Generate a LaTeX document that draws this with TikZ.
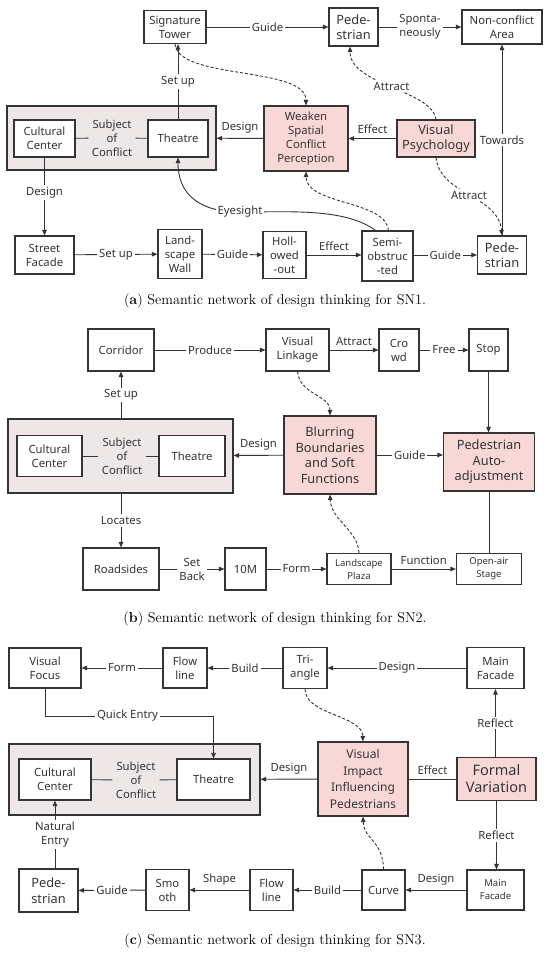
\documentclass[tikz,border=0pt]{standalone}
\usepackage{fontspec}
\newfontfamily\netfont{Noto Sans}
\usetikzlibrary{arrows.meta}
\definecolor{hotpink}{RGB}{248,216,214}
\definecolor{subjgrey}{RGB}{237,231,231}
\definecolor{ink}{RGB}{52,52,52}
\newcommand{\netcaption}[4]{%
  \node[capt] (#1) at (275,#2) {(\textbf{#3}) Semantic network of design thinking for SN#4.};
}

\begin{document}
\begin{tikzpicture}[x=1pt,y=-1pt,>={Triangle[length=5.5pt,width=4.5pt]},
    every node/.style={font=\netfont\fontsize{11.3}{14}\selectfont,text=ink},
    box/.style={draw=ink,line width=1.1pt,fill=white,align=center,inner sep=1pt},
    hot/.style={box,fill=hotpink},
    grp/.style={draw=ink,line width=1.1pt,fill=subjgrey},
    lab/.style={fill=white,inner sep=2pt,align=center},
    big/.style={font=\netfont\fontsize{12.8}{15.5}\selectfont},
    midtext/.style={font=\netfont\fontsize{12}{16.5}\selectfont},
    smalltext/.style={font=\netfont\fontsize{9.5}{13}\selectfont},
    link/.style={draw=ink,line width=0.9pt},
    hint/.style={link,dash pattern=on 3pt off 2pt},
    capt/.style={font=\rmfamily\fontsize{14.3}{16}\selectfont,text=black}]
  \useasboundingbox[fill=white] (0,0) rectangle (550,953);

  % (a)
  \node[grp,minimum width=209,minimum height=64] (subj1) at (111.5,138) {};
  \node[box,minimum width=62,minimum height=33] (tower) at (175,27) {Signature\\Tower};
  \node[box,big,minimum width=49,minimum height=38] (ped1) at (353.5,27) {Pede-\\strian};
  \node[box,minimum width=80,minimum height=34] (area) at (502,27) {Non-conflict\\Area};
  \node[box,minimum width=61,minimum height=37] (cc1) at (44.5,138.5) {Cultural\\Center};
  \node[align=center] (soc1) at (112,138) {Subject\\of\\Conflict};
  \node[box,minimum width=60,minimum height=37] (th1) at (178,138.5) {Theatre};
  \node[hot,minimum width=84,minimum height=65] (weak) at (306,138.5) {Weaken\\Spatial\\Conflict\\Perception};
  \node[hot,big,minimum width=78,minimum height=37] (psy) at (436,138.5) {Visual\\Psychology};
  \node[box,minimum width=59,minimum height=38] (street) at (44.5,255) {Street\\Facade};
  \node[box,minimum width=44,minimum height=49] (wall) at (180,254) {Land-\\scape\\Wall};
  \node[box,minimum width=43,minimum height=47] (hollow) at (284.5,255) {Holl-\\owed\\-out};
  \node[box,minimum width=51,minimum height=50] (semi) at (387.5,256) {Semi-\\obstruc\\-ted};
  \node[box,big,minimum width=49,minimum height=38] (ped2) at (502,255) {Pede-\\strian};

  \draw[link] (cc1) -- (soc1) -- (th1);
  \draw[link,->] (tower) -- node[lab] {Guide} (ped1);
  \draw[link,->] (ped1) -- node[lab] {Sponta-\\neously} (area);
  \draw[link,->] (psy) -- node[above=1pt] {Effect} (weak);
  \draw[link,->] (weak) -- node[above=1pt] {Design} (subj1);
  \draw[link,->] (th1.north) -- node[lab] {Set up} (th1.north |- tower.south);
  \draw[link,->] (cc1.south) -- node[lab,pos=0.45] {Design} (cc1.south |- street.north);
  \draw[link,->] (street) -- node[lab] {Set up} (wall);
  \draw[link,->] (wall) -- node[lab] {Guide} (hollow);
  \draw[link,->] (hollow.east) -- node[above=1pt] {Effect} (hollow.east -| semi.west);
  \draw[link,->] (semi.east |- ped2) -- node[lab] {Guide} (ped2.west);
  \draw[link,->] (ped2) -- node[lab] {Towards} (area);
  \draw[hint,->] (tower.south) .. controls (178,80) and (306,66) .. (weak.north);
  \draw[hint,->] (psy.north) .. controls (432,90) and (350,85) .. node[lab] {Attract} (ped1.260);
  \draw[hint,->] (psy.south) .. controls (440,195) and (498,195) .. node[lab] {Attract} (ped2.north);
  \draw[link,->] (semi.115) .. controls (345,208) and (290,212) .. (240,212)
    .. controls (200,212) and (178,195) .. (th1.south);
  \node[lab] (eye) at (240,212) {Eyesight};
  \draw[hint,->] (semi.88) .. controls (386,200) and (306,205) .. (weak.south);
  \netcaption{capa}{301}{a}{1}

  % (b)
  \node[box,minimum width=66,minimum height=42] (corr) at (121,350) {Corridor};
  \node[box,minimum width=63,minimum height=42] (vlink) at (297.5,350) {Visual\\Linkage};
  \node[box,minimum width=40,minimum height=42] (crowd) at (399,350) {Cro\\wd};
  \node[box,minimum width=39,minimum height=42] (stop) at (488.5,350) {Stop};
  \node[grp,minimum width=225,minimum height=74] (subj2) at (120.5,456) {};
  \node[box,minimum width=65,minimum height=41] (cc2) at (49.5,456) {Cultural\\Center};
  \node[align=center] (soc2) at (122,456) {Subject\\of\\Conflict};
  \node[box,minimum width=66,minimum height=41] (th2) at (192,456) {Theatre};
  \node[hot,big,minimum width=92,minimum height=78] (blur) at (330,455) {Blurring\\Boundaries\\and Soft\\Functions};
  \node[hot,big,minimum width=91,minimum height=58] (auto) at (489,462) {Pedestrian\\Auto-\\adjustment};
  \node[box,minimum width=76,minimum height=42] (road) at (121,569) {Roadsides};
  \node[box,minimum width=41,minimum height=42] (tenm) at (245.5,569) {10M};
  \node[box,smalltext,minimum width=64,minimum height=31] (plaza) at (359,569) {Landscape\\Plaza};
  \node[box,smalltext,minimum width=65,minimum height=31] (stage) at (489,569) {Open-air\\Stage};

  \draw[link] (cc2) -- (soc2) -- (th2);
  \draw[link,->] (corr) -- node[lab] {Produce} (vlink);
  \draw[link,->] (vlink) -- node[above=1pt] {Attract} (crowd);
  \draw[link,->] (crowd) -- node[lab] {Free} (stop);
  \draw[link,->] (stop) -- (stop |- auto.north);
  \draw[link,->] (blur.east) -- node[lab] {Guide} (blur.east -| auto.west);
  \draw[link,->] (blur) -- node[above=1pt] {Design} (subj2);
  \draw[link,->] (corr.south |- subj2.north) -- node[lab] {Set up} (corr.south);
  \draw[link,->] (road.north |- subj2.south) -- node[lab] {Locates} (road.north);
  \draw[link,->] (road) -- node[lab] {Set\\Back} (tenm);
  \draw[link,->] (tenm) -- node[lab] {Form} (plaza);
  \draw[link,->] (plaza) -- node[above=1pt] {Function} (stage);
  \draw[link] (auto) -- (stage);
  \draw[hint,->] (vlink.south) .. controls (300,395) and (330,395) .. (blur.north);
  \draw[hint,->] (plaza.north) .. controls (358,530) and (331,520) .. (blur.south);
  \netcaption{capb}{619}{b}{2}

  % (c)
  \node[box,minimum width=72,minimum height=40] (focus) at (45,668) {Visual\\Focus};
  \node[box,minimum width=44,minimum height=40] (flow1) at (185,668) {Flow\\line};
  \node[box,minimum width=44,minimum height=41] (tri) at (305,668) {Tri-\\angle};
  \node[box,minimum width=57,minimum height=41] (front1) at (495.5,668) {Main\\Facade};
  \node[grp,minimum width=251,minimum height=71] (subj3) at (134.5,779.5) {};
  \node[box,minimum width=72,minimum height=41] (cc3) at (55,779.5) {Cultural\\Center};
  \node[align=center] (soc3) at (136,780) {Subject\\of\\Conflict};
  \node[box,minimum width=73,minimum height=41] (th3) at (213.5,779.5) {Theatre};
  \node[hot,midtext,minimum width=90,minimum height=74] (impact) at (363,779) {Visual\\Impact\\Influencing\\Pedestrians};
  \node[hot,font=\netfont\fontsize{14.5}{17}\selectfont,minimum width=79,minimum height=43] (form) at (496.5,779) {Formal\\Variation};
  \node[box,big,minimum width=59,minimum height=43] (ped3) at (48.5,890.5) {Pede-\\strian};
  \node[box,minimum width=43,minimum height=41] (smooth) at (167.5,890) {Smo\\oth};
  \node[box,minimum width=43,minimum height=41] (flow2) at (271.5,890) {Flow\\line};
  \node[box,minimum width=43,minimum height=40] (curve) at (383.5,890) {Curve};
  \node[box,smalltext,minimum width=57,minimum height=40] (front2) at (495.5,890) {Main\\Facade};
  \coordinate (qturn) at (0,716);

  \draw[link] (cc3) -- (soc3) -- (th3);
  \draw[link,->] (flow1) -- node[lab] {Form} (focus);
  \draw[link,->] (tri) -- node[lab] {Build} (flow1);
  \draw[link,->] (front1) -- node[lab] {Design} (tri);
  \draw[link,->] (front1.south |- form.north) -- node[lab] {Reflect} (front1.south);
  \draw[link] (form) -- node[above=1pt] {Effect} (impact);
  \draw[link,->] (impact) -- node[above=1pt] {Design} (subj3);
  \draw[link,->] (focus.south) |- node[lab,pos=0.745] {Quick Entry} (th3.north |- qturn) -- (th3.north);
  \draw[link,->] (cc3.south |- ped3.north) -- node[lab] {Natural\\Entry} (cc3.south);
  \draw[link,->] (smooth) -- node[lab] {Guide} (ped3);
  \draw[link,->] (flow2) -- node[above=1pt] {Shape} (smooth);
  \draw[link,->] (curve) -- node[lab] {Build} (flow2);
  \draw[link,->] (front2) -- node[above=1pt] {Design} (curve);
  \draw[link,->] (form.south) -- node[lab] {Reflect} (form.south |- front2.north);
  \draw[hint,->] (tri.south) .. controls (305,715) and (362,715) .. (impact.north);
  \draw[hint,->] (curve.north) .. controls (383,840) and (364,840) .. (impact.south);
  \netcaption{capc}{941}{c}{3}
\end{tikzpicture}
\end{document}
